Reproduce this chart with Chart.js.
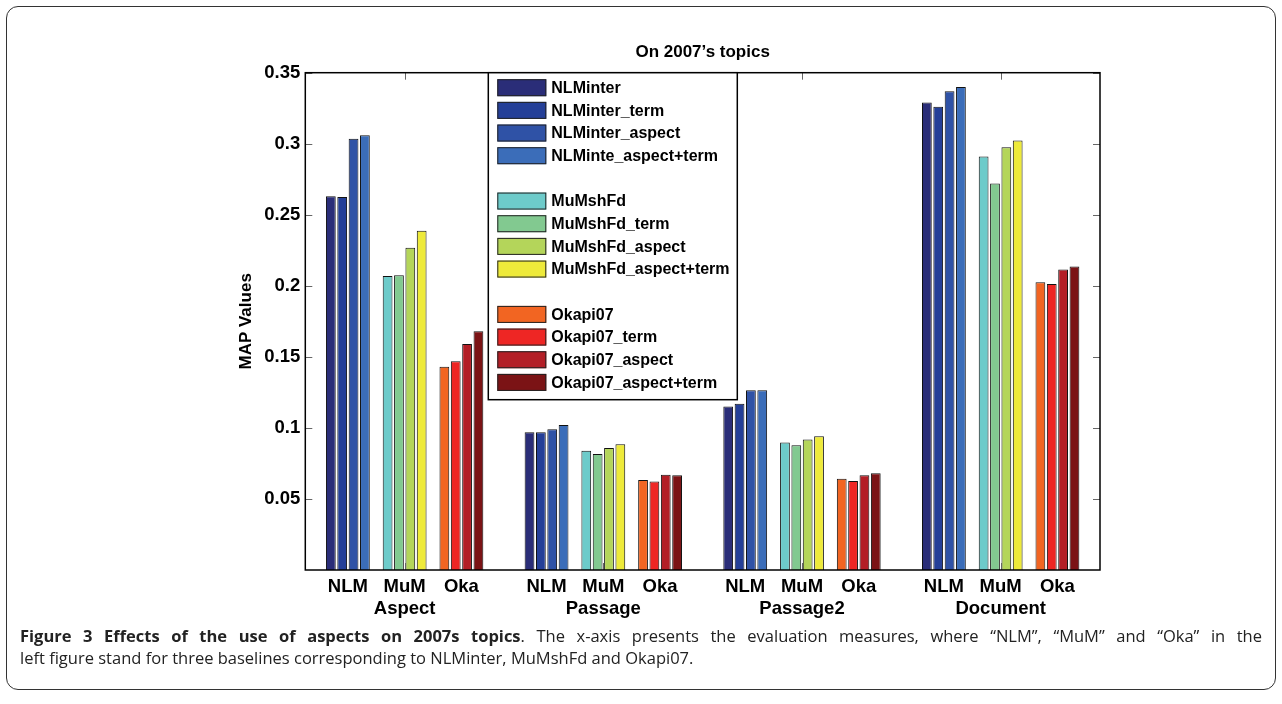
<!DOCTYPE html>
<html>
<head>
<meta charset="utf-8">
<script src="https://cdn.jsdelivr.net/npm/chart.js@4/dist/chart.umd.min.js"></script>
<style>
  body { margin: 0; background: #fff; width: 1282px; height: 704px; overflow: hidden; position: relative; }
  #frame { position: absolute; left: 6px; top: 6px; width: 1268px; height: 682px; border: 1.5px solid #333; border-radius: 12px; }
  #chart { position: absolute; left: 0; top: 0; }
  #caption { position: absolute; left: 20px; top: 625px; width: 1242px; font: 16.5px "Open Sans", sans-serif; line-height: 22px; color: #222; }
  #caption .l1 { text-align: justify; text-align-last: justify; white-space: nowrap; }
  #caption b { font-weight: 700; }
</style>
</head>
<body>
<div id="frame"></div>
<canvas id="chart" width="1282" height="630"></canvas>
<div id="caption">
  <div class="l1"><b>Figure 3 Effects of the use of aspects on 2007s topics</b>. The x-axis presents the evaluation measures, where “NLM”, “MuM” and “Oka” in the</div>
  <div>left figure stand for three baselines corresponding to NLMinter, MuMshFd and Okapi07.</div>
</div>
<script>
// groups on the x axis and the baselines inside each group
var groups = ["Aspect", "Passage", "Passage2", "Document"];
var baselines = ["NLM", "MuM", "Oka"];
var xPos = [1, 2, 3, 4.5, 5.5, 6.5, 8, 9, 10, 11.5, 12.5, 13.5];
var yTicks = [0.05, 0.1, 0.15, 0.2, 0.25, 0.3, 0.35];

// MAP values, one per group (Aspect, Passage, Passage2, Document)
var nlminter          = [0.263, 0.097, 0.115, 0.329];
var nlminterTerm      = [0.2625, 0.097, 0.117, 0.326];
var nlminterAspect    = [0.3035, 0.099, 0.1265, 0.337];
var nlminteAspectTerm = [0.306, 0.102, 0.1265, 0.340];
var mumshfd           = [0.207, 0.084, 0.0897, 0.291];
var mumshfdTerm       = [0.2075, 0.0817, 0.0878, 0.272];
var mumshfdAspect     = [0.2268, 0.0859, 0.0918, 0.2976];
var mumshfdAspectTerm = [0.2387, 0.0885, 0.0941, 0.3023];
var okapi07           = [0.143, 0.0634, 0.0643, 0.2026];
var okapi07Term       = [0.147, 0.0622, 0.0627, 0.2012];
var okapi07Aspect     = [0.159, 0.0671, 0.0667, 0.2115];
var okapi07AspectTerm = [0.168, 0.0667, 0.0681, 0.2136];

var series = [
    { label: "NLMinter", base: 0, values: nlminter, color: "#2a2d78" },
    { label: "NLMinter_term", base: 0, values: nlminterTerm, color: "#243f98" },
    { label: "NLMinter_aspect", base: 0, values: nlminterAspect, color: "#2f52a6" },
    { label: "NLMinte_aspect+term", base: 0, values: nlminteAspectTerm, color: "#3b6db9" },
    { label: "MuMshFd", base: 1, values: mumshfd, color: "#6dcbca" },
    { label: "MuMshFd_term", base: 1, values: mumshfdTerm, color: "#82c990" },
    { label: "MuMshFd_aspect", base: 1, values: mumshfdAspect, color: "#b4d55a" },
    { label: "MuMshFd_aspect+term", base: 1, values: mumshfdAspectTerm, color: "#eeea3a" },
    { label: "Okapi07", base: 2, values: okapi07, color: "#f26522" },
    { label: "Okapi07_term", base: 2, values: okapi07Term, color: "#ee2624" },
    { label: "Okapi07_aspect", base: 2, values: okapi07Aspect, color: "#b31e26" },
    { label: "Okapi07_aspect+term", base: 2, values: okapi07AspectTerm, color: "#7b1315" }
];

var datasets = series.map(function(s) {
    return {
        label: s.label,
        backgroundColor: s.color,
        borderColor: "#111",
        borderWidth: 1,
        skipNull: true,
        categoryPercentage: 0.8,
        barPercentage: 0.86,
        data: xPos.map(function(x, i) {
            var g = Math.floor(i / 3), b = i % 3;
            return { x: x, y: b === s.base ? s.values[g] : null };
        })
    };
});

// axes box with inward ticks, like the original plot
var axesBox = {
    id: 'axesBox',
    afterDatasetsDraw: function(chart) {
        var ctx = chart.ctx, a = chart.chartArea, x = chart.scales.x, y = chart.scales.y;
        ctx.save();
        ctx.strokeStyle = "#666";
        ctx.lineWidth = 1;
        ctx.beginPath();
        yTicks.forEach(function(v) {
            var py = Math.round(y.getPixelForValue(v)) + 0.5;
            ctx.moveTo(a.left, py); ctx.lineTo(a.left + 7, py);
            ctx.moveTo(a.right, py); ctx.lineTo(a.right - 7, py);
        });
        xPos.forEach(function(v, i) {
            if (i % 3 !== 1) return;
            var px = Math.round(x.getPixelForValue(v)) + 0.5;
            ctx.moveTo(px, a.top); ctx.lineTo(px, a.top + 7);
            ctx.moveTo(px, a.bottom); ctx.lineTo(px, a.bottom - 7);
        });
        ctx.stroke();
        ctx.strokeStyle = "#000";
        ctx.lineWidth = 1.5;
        ctx.strokeRect(a.left, a.top, a.right - a.left, a.bottom - a.top);
        ctx.restore();
    }
};

// legend box inside the plot, with blank rows between baselines
var boxLegend = {
    id: 'boxLegend',
    afterDraw: function(chart) {
        var ctx = chart.ctx, a = chart.chartArea;
        var left = a.left + 183, top = a.top, w = 249, h = 327;
        ctx.save();
        ctx.fillStyle = "#fff";
        ctx.fillRect(left, top, w, h);
        ctx.strokeStyle = "#000";
        ctx.lineWidth = 1.5;
        ctx.strokeRect(left, top, w, h);
        ctx.font = "bold 16px 'Liberation Sans', Arial, sans-serif";
        ctx.textBaseline = "middle";
        ctx.lineWidth = 1;
        chart.data.datasets.forEach(function(ds, i) {
            var row = i + Math.floor(i / 4);
            var cy = top + 15 + row * 22.67;
            ctx.fillStyle = ds.backgroundColor;
            ctx.fillRect(left + 9, cy - 8.5, 49, 17);
            ctx.strokeStyle = "#222";
            ctx.strokeRect(left + 9.5, cy - 8, 48, 16);
            ctx.fillStyle = "#000";
            ctx.fillText(ds.label, left + 63, cy + 1);
        });
        ctx.restore();
    }
};

new Chart(document.getElementById("chart").getContext("2d"), {
    type: 'bar',
    data: { datasets: datasets },
    plugins: [axesBox, boxLegend],
    options: {
        responsive: false,
        animation: false,
        devicePixelRatio: 1,
        layout: { padding: { left: 225, right: 182, top: 0, bottom: 0 } },
        plugins: {
            legend: { display: false },
            tooltip: { enabled: false },
            title: {
                display: true,
                text: "On 2007\u2019s topics",
                fullSize: false,
                color: "#000",
                font: { family: "'Liberation Sans', Arial, sans-serif", size: 17, weight: "bold" },
                padding: { top: 42, bottom: 10.3 }
            }
        },
        scales: {
            x: {
                type: 'linear',
                offset: false,
                min: 0.25,
                max: 14.25,
                grid: { display: false, drawTicks: false, offset: false },
                border: { display: false },
                afterBuildTicks: function(scale) {
                    scale.ticks = xPos.map(function(v) { return { value: v }; });
                },
                afterFit: function(scale) { scale.height = 60; },
                ticks: {
                    autoSkip: false,
                    maxRotation: 0,
                    padding: 6,
                    color: "#000",
                    font: { family: "'Liberation Sans', Arial, sans-serif", size: 18.5, weight: "bold" },
                    callback: function(v, i) {
                        var b = i % 3;
                        return b === 1 ? [baselines[b], groups[Math.floor(i / 3)]] : baselines[b];
                    }
                }
            },
            y: {
                min: 0,
                max: 0.35,
                grid: { display: false, drawTicks: false },
                border: { display: false },
                afterFit: function(scale) { scale.width = 80.3; },
                afterBuildTicks: function(scale) {
                    scale.ticks = [0].concat(yTicks).map(function(v) { return { value: v }; });
                },
                ticks: {
                    padding: 5,
                    color: "#000",
                    font: { family: "'Liberation Sans', Arial, sans-serif", size: 18.5, weight: "bold" },
                    callback: function(v) { return v === 0 ? "" : String(+v.toFixed(2)); }
                },
                title: {
                    display: true,
                    text: "MAP Values",
                    color: "#000",
                    font: { family: "'Liberation Sans', Arial, sans-serif", size: 17, weight: "bold" },
                    padding: { top: 11, bottom: 0 }
                }
            }
        }
    }
});
</script>
</body>
</html>
